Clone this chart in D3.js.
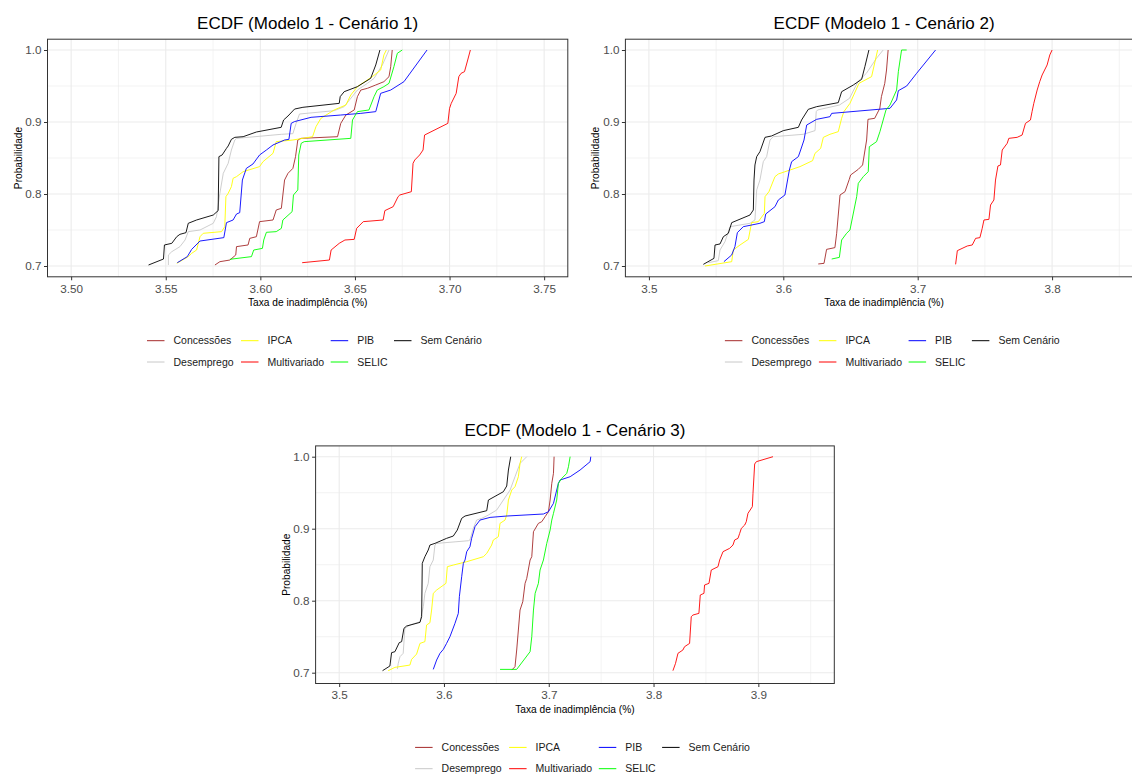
<!DOCTYPE html>
<meta charset="utf-8">
<style>
body { margin: 0; background: #fff; }
text { font-family: "Liberation Sans", Arial, sans-serif; }
.grid-major { stroke: #ebebeb; stroke-width: 1.1; }
.grid-minor { stroke: #ebebeb; stroke-width: 0.6; }
.border { fill: none; stroke: #333; stroke-width: 1; }
.axis .tick line { stroke: #333; }
.axis .tick text { fill: #4d4d4d; font-size: 11.7px; }
.title { font-size: 17px; fill: #000; }
.axis-title { font-size: 10.2px; fill: #000; }
.legend text { font-size: 10.5px; fill: #1a1a1a; }
.ecdf { fill: none; stroke-width: 0.9; stroke-linejoin: round; }
</style>
<body>
<script src="https://d3js.org/d3.v7.min.js"></script>
<script>

// legend order (factor levels) and colours
var seriesNames = ["Concessões", "Desemprego", "IPCA", "Multivariado", "PIB", "SELIC", "Sem Cenário"];
var seriesColors = ["#a52a2a", "#c8c8c8", "#ffff00", "#ff0000", "#0000ff", "#00ff00", "#000000"];

var yLim = [0.7, 1.0],
    yTicks = [0.7, 0.8, 0.9, 1.0];

var xLim1 = [3.5, 3.75], xTicks1 = [3.50, 3.55, 3.60, 3.65, 3.70, 3.75];
var xLim2 = [3.5, 3.85], xTicks2 = [3.5, 3.6, 3.7, 3.8];
var xLim3 = [3.5, 3.95], xTicks3 = [3.5, 3.6, 3.7, 3.8, 3.9];

// ---- Cenário 1: [taxa, probabilidade] vertices of each ECDF (upper tail)
var c1Concessoes = [[3.576,0.7014],[3.5786,0.706],[3.5839,0.7083],[3.587,0.7153],[3.5874,0.7269],[3.5935,0.7292],[3.5944,0.7384],[3.5979,0.7407],[3.5996,0.7616],[3.6067,0.7639],[3.6084,0.7778],[3.6111,0.7801],[3.6128,0.8194],[3.6146,0.8287],[3.6172,0.8356],[3.6186,0.8519],[3.6198,0.875],[3.6215,0.8773],[3.6408,0.8796],[3.6425,0.8981],[3.6452,0.9097],[3.6496,0.9167],[3.6513,0.9352],[3.6531,0.9444],[3.6566,0.9468],[3.661,0.9514],[3.6653,0.956],[3.668,0.963],[3.6689,0.9769],[3.6697,1.0]];
var c1Desemprego = [[3.5514,0.7014],[3.5514,0.7153],[3.5532,0.7199],[3.5575,0.7269],[3.5602,0.7361],[3.5619,0.7477],[3.5681,0.75],[3.5751,0.7593],[3.5768,0.7685],[3.5786,0.8009],[3.5804,0.8287],[3.583,0.8426],[3.5847,0.8611],[3.5865,0.875],[3.5874,0.8773],[3.6111,0.8829],[3.6172,0.8838],[3.6189,0.8981],[3.6207,0.9111],[3.639,0.9157],[3.6443,0.9213],[3.6474,0.9315],[3.6513,0.9444],[3.6566,0.9537],[3.6601,0.9606],[3.6645,0.9792],[3.668,1.0]];
var c1IPCA = [[3.5558,0.7037],[3.5619,0.713],[3.5637,0.7176],[3.5663,0.7222],[3.5681,0.7407],[3.5698,0.7454],[3.5795,0.7477],[3.5812,0.7546],[3.5818,0.7963],[3.583,0.8009],[3.5847,0.8102],[3.5856,0.8218],[3.5874,0.8241],[3.5909,0.831],[3.5996,0.838],[3.6014,0.8449],[3.6067,0.8565],[3.6084,0.8727],[3.6172,0.875],[3.6276,0.8796],[3.6294,0.8935],[3.632,0.9051],[3.639,0.9167],[3.6452,0.9236],[3.6478,0.9375],[3.6513,0.9491],[3.6592,0.963],[3.6636,0.9722],[3.6653,0.9931],[3.6666,1.0]];
var c1Multivariado = [[3.6221,0.7046],[3.6365,0.7083],[3.6374,0.7222],[3.6417,0.7315],[3.6447,0.7361],[3.6496,0.737],[3.6509,0.7523],[3.6544,0.7616],[3.6649,0.7639],[3.6658,0.7769],[3.6702,0.7824],[3.6728,0.7963],[3.6737,0.7986],[3.6798,0.8032],[3.6807,0.8426],[3.6816,0.8472],[3.6842,0.8542],[3.686,0.8611],[3.6868,0.8819],[3.6991,0.8981],[3.7,0.919],[3.7009,0.9259],[3.7035,0.9398],[3.7049,0.963],[3.7061,0.9676],[3.7079,0.9699],[3.7096,0.9861],[3.711,1.0]];
var c1PIB = [[3.5561,0.7046],[3.5614,0.713],[3.5637,0.7231],[3.5681,0.7347],[3.5807,0.7394],[3.5821,0.7602],[3.5856,0.7639],[3.5874,0.7722],[3.5891,0.7741],[3.5905,0.8194],[3.5926,0.8356],[3.5961,0.8417],[3.5996,0.8542],[3.6032,0.8611],[3.6067,0.8681],[3.6128,0.875],[3.6151,0.8759],[3.6163,0.8981],[3.618,0.9005],[3.6268,0.9065],[3.6425,0.9097],[3.6531,0.912],[3.661,0.9144],[3.6636,0.9398],[3.6689,0.9444],[3.6759,0.956],[3.6881,1.0]];
var c1SELIC = [[3.5839,0.7093],[3.5953,0.713],[3.5965,0.7222],[3.6011,0.7245],[3.6018,0.7361],[3.6032,0.7468],[3.6084,0.7477],[3.6111,0.7523],[3.6119,0.7639],[3.6168,0.7755],[3.6175,0.7986],[3.6198,0.8056],[3.6203,0.8542],[3.6216,0.8704],[3.6232,0.8727],[3.6478,0.8773],[3.6487,0.9028],[3.6513,0.9144],[3.6574,0.9167],[3.6601,0.9352],[3.6618,0.9444],[3.6653,0.9491],[3.668,0.9537],[3.6706,0.9769],[3.6724,0.9954],[3.675,1.0]];
var c1SemCenario = [[3.5409,0.7014],[3.5488,0.7097],[3.5493,0.7292],[3.5532,0.7315],[3.5558,0.7407],[3.5575,0.744],[3.5607,0.7463],[3.5619,0.7593],[3.5663,0.7639],[3.5751,0.7708],[3.5777,0.7769],[3.5781,0.8519],[3.5798,0.8542],[3.5821,0.8634],[3.583,0.8667],[3.5847,0.8759],[3.5865,0.8787],[3.5909,0.8796],[3.5979,0.8861],[3.611,0.8926],[3.6123,0.9028],[3.6146,0.9083],[3.6181,0.918],[3.6225,0.9204],[3.6417,0.9259],[3.6422,0.9352],[3.6443,0.9421],[3.6513,0.9491],[3.6583,0.9606],[3.661,0.9792],[3.6632,1.0]];

// ---- Cenário 2
var c2Concessoes = [[3.626,0.7028],[3.6303,0.7037],[3.6322,0.7231],[3.6384,0.7255],[3.6397,0.7454],[3.6422,0.7986],[3.6459,0.8032],[3.6491,0.8204],[3.6501,0.8264],[3.6558,0.8343],[3.659,0.8403],[3.662,0.875],[3.663,0.9037],[3.668,0.9051],[3.6718,0.919],[3.673,0.9352],[3.6755,0.9537],[3.6768,0.9722],[3.678,1.0]];
var c2Desemprego = [[3.5442,0.7046],[3.5516,0.7074],[3.5529,0.7222],[3.5566,0.7338],[3.5603,0.7546],[3.5752,0.7593],[3.5789,0.7639],[3.5802,0.8056],[3.5826,0.8194],[3.5851,0.8449],[3.5876,0.8519],[3.5901,0.875],[3.5926,0.8796],[3.6149,0.8829],[3.6236,0.888],[3.6245,0.9144],[3.6255,0.9167],[3.6418,0.9236],[3.6493,0.9329],[3.6555,0.956],[3.6618,0.9676],[3.6693,0.9884],[3.6743,1.0]];
var c2IPCA = [[3.5417,0.7],[3.5616,0.706],[3.5628,0.7222],[3.5678,0.7292],[3.574,0.737],[3.5764,0.7602],[3.5814,0.7616],[3.5859,0.7731],[3.5864,0.7963],[3.5893,0.8032],[3.5938,0.8241],[3.5963,0.8278],[3.6124,0.838],[3.6218,0.8463],[3.6236,0.8565],[3.6278,0.8634],[3.6298,0.8787],[3.6347,0.8829],[3.6409,0.8866],[3.6434,0.9051],[3.6451,0.9144],[3.6496,0.9259],[3.6563,0.9537],[3.6657,0.963],[3.6702,1.0]];
var c2Multivariado = [[3.7282,0.7023],[3.7295,0.7213],[3.7369,0.7278],[3.7406,0.7292],[3.7431,0.7384],[3.7463,0.7394],[3.748,0.7523],[3.7493,0.7639],[3.753,0.7648],[3.7542,0.7847],[3.7567,0.7917],[3.7579,0.8194],[3.7597,0.8389],[3.7616,0.8403],[3.7629,0.8611],[3.7666,0.8704],[3.7678,0.8773],[3.774,0.8787],[3.7777,0.8819],[3.7802,0.8981],[3.7839,0.9028],[3.7851,0.9144],[3.7864,0.9259],[3.7889,0.9444],[3.7908,0.956],[3.7926,0.9653],[3.7963,0.9792],[3.7983,0.9931],[3.8,1.0]];
var c2PIB = [[3.5558,0.706],[3.5616,0.7153],[3.564,0.7269],[3.5658,0.7463],[3.5702,0.7546],[3.5826,0.7593],[3.5859,0.7616],[3.5869,0.7722],[3.5938,0.7824],[3.5963,0.7917],[3.6012,0.7986],[3.6045,0.8333],[3.6062,0.8449],[3.6112,0.8519],[3.6129,0.8611],[3.6154,0.875],[3.6174,0.8958],[3.6248,0.9037],[3.6347,0.9074],[3.636,0.912],[3.6794,0.919],[3.6843,0.9306],[3.6856,0.9435],[3.6918,0.95],[3.6992,0.9676],[3.7133,1.0]];
var c2SELIC = [[3.636,0.7097],[3.6417,0.712],[3.6434,0.7361],[3.6471,0.7454],[3.6496,0.75],[3.6546,0.7963],[3.6558,0.8148],[3.6595,0.8241],[3.6632,0.831],[3.664,0.8657],[3.6694,0.8727],[3.6719,0.8866],[3.6764,0.9167],[3.6794,0.9236],[3.6843,0.9444],[3.6856,0.9699],[3.688,1.0],[3.6918,1.0]];
var c2SemCenario = [[3.5405,0.7023],[3.5484,0.7106],[3.5492,0.7292],[3.5529,0.7306],[3.5554,0.7407],[3.5591,0.7454],[3.5616,0.7602],[3.5752,0.7708],[3.5777,0.7778],[3.5782,0.8194],[3.5789,0.8403],[3.5802,0.8519],[3.5826,0.8588],[3.5864,0.8787],[3.5913,0.8806],[3.6,0.888],[3.6112,0.8926],[3.6136,0.9028],[3.6186,0.9176],[3.6248,0.9213],[3.6409,0.9269],[3.6434,0.9421],[3.6521,0.9514],[3.6583,0.9593],[3.6607,0.9769],[3.6637,1.0]];

// ---- Cenário 3
var c3Concessoes = [[3.6647,0.7037],[3.6678,0.7083],[3.6694,0.7315],[3.671,0.7593],[3.6726,0.787],[3.6752,0.7986],[3.6774,0.8241],[3.679,0.831],[3.6822,0.8565],[3.6838,0.8611],[3.6854,0.8958],[3.6901,0.9074],[3.6933,0.9097],[3.6965,0.9167],[3.6997,0.9236],[3.7013,0.9398],[3.7029,0.963],[3.7045,0.9769],[3.7051,1.0]];
var c3Desemprego = [[3.5555,0.705],[3.5564,0.713],[3.558,0.7222],[3.5611,0.7269],[3.5627,0.7616],[3.5675,0.7662],[3.5771,0.7708],[3.5803,0.7917],[3.5818,0.8102],[3.585,0.8241],[3.5866,0.8472],[3.5898,0.8565],[3.5914,0.8773],[3.593,0.8796],[3.6233,0.8833],[3.6248,0.8843],[3.628,0.9005],[3.6312,0.912],[3.636,0.9144],[3.6424,0.919],[3.6503,0.9259],[3.6567,0.9398],[3.6631,0.9537],[3.6678,0.9722],[3.6726,0.9907],[3.679,1.0]];
var c3IPCA = [[3.5468,0.7028],[3.5532,0.7074],[3.5675,0.7106],[3.5691,0.7185],[3.5739,0.7259],[3.5771,0.7407],[3.5818,0.7431],[3.5834,0.7662],[3.5866,0.7694],[3.5882,0.787],[3.5898,0.8102],[3.593,0.8148],[3.6019,0.8241],[3.6032,0.8472],[3.6089,0.8495],[3.6217,0.8542],[3.6376,0.8611],[3.6408,0.8657],[3.6455,0.8773],[3.6471,0.8843],[3.6519,0.8889],[3.6535,0.9074],[3.6583,0.912],[3.6599,0.919],[3.6615,0.9398],[3.6647,0.9537],[3.6678,0.9583],[3.671,0.9722],[3.6726,0.9907],[3.6742,1.0]];
var c3Multivariado = [[3.8185,0.7028],[3.821,0.713],[3.8233,0.7269],[3.828,0.7315],[3.8296,0.7361],[3.8344,0.7407],[3.836,0.7778],[3.8376,0.7801],[3.8433,0.7824],[3.8446,0.8079],[3.8481,0.8102],[3.8487,0.8218],[3.8529,0.8241],[3.8551,0.8426],[3.8615,0.8472],[3.8631,0.8565],[3.8663,0.8681],[3.8726,0.8727],[3.8758,0.8773],[3.8774,0.8843],[3.8806,0.8866],[3.8822,0.8935],[3.8838,0.9005],[3.887,0.9051],[3.8885,0.9097],[3.8901,0.9213],[3.8943,0.9306],[3.8949,0.9491],[3.8965,0.9898],[3.8981,0.9931],[3.914,1.0]];
var c3PIB = [[3.5898,0.7046],[3.593,0.7176],[3.5962,0.7269],[3.5994,0.7324],[3.6025,0.7407],[3.6057,0.75],[3.6105,0.7685],[3.6137,0.7824],[3.6147,0.8056],[3.6169,0.8333],[3.6185,0.8519],[3.6201,0.8565],[3.6217,0.8681],[3.6248,0.875],[3.6264,0.8866],[3.6296,0.9028],[3.6344,0.912],[3.644,0.9157],[3.6599,0.9176],[3.6949,0.9204],[3.6997,0.9236],[3.7045,0.9352],[3.7076,0.9537],[3.7092,0.963],[3.7108,0.9676],[3.7204,0.9722],[3.7299,0.9815],[3.7395,0.9931],[3.7401,1.0]];
var c3SELIC = [[3.6535,0.7046],[3.6694,0.7046],[3.6822,0.7292],[3.6838,0.75],[3.6854,0.787],[3.687,0.8102],[3.6901,0.8241],[3.6917,0.8426],[3.6949,0.8565],[3.6981,0.8796],[3.7013,0.8981],[3.7029,0.912],[3.7045,0.9213],[3.7076,0.9398],[3.7092,0.963],[3.7124,0.9699],[3.7172,0.9769],[3.7188,0.9861],[3.7204,1.0]];
var c3SemCenario = [[3.5414,0.7028],[3.5484,0.7093],[3.55,0.7278],[3.5532,0.7292],[3.5573,0.7417],[3.5596,0.7431],[3.5618,0.7616],[3.5643,0.7648],[3.5771,0.7699],[3.5787,0.7778],[3.5793,0.8519],[3.5818,0.8611],[3.585,0.8704],[3.5866,0.8773],[3.5914,0.8796],[3.6025,0.8866],[3.6089,0.8898],[3.6127,0.8981],[3.6169,0.9144],[3.6201,0.9176],[3.6408,0.925],[3.6424,0.9398],[3.6567,0.9514],[3.6599,0.9593],[3.6615,0.9815],[3.6637,1.0]];

var panels = [
  { title: "ECDF (Modelo 1 - Cenário 1)", xLim: xLim1, xTicks: xTicks1, fmt: ".2f",
    left: 47.5, right: 567.8, top: 39.2, bottom: 276.8,
    series: [c1Concessoes, c1Desemprego, c1IPCA, c1Multivariado, c1PIB, c1SELIC, c1SemCenario] },
  { title: "ECDF (Modelo 1 - Cenário 2)", xLim: xLim2, xTicks: xTicks2, fmt: ".1f",
    left: 625.4, right: 1142.8, top: 39.2, bottom: 276.8,
    series: [c2Concessoes, c2Desemprego, c2IPCA, c2Multivariado, c2PIB, c2SELIC, c2SemCenario] },
  { title: "ECDF (Modelo 1 - Cenário 3)", xLim: xLim3, xTicks: xTicks3, fmt: ".1f",
    left: 315.6, right: 834.3, top: 445.9, bottom: 683.5,
    series: [c3Concessoes, c3Desemprego, c3IPCA, c3Multivariado, c3PIB, c3SELIC, c3SemCenario] }
];

// legend layout: 4 columns, filled by column
var legendKeyX = [99.5, 193.5, 283.2, 346.5],
    legendRowY = [63.9, 85.2];

var svg = d3.select("body").append("svg")
    .attr("width", 1132)
    .attr("height", 774);

function expand(lim) {
  var d = (lim[1] - lim[0]) * 0.05;
  return [lim[0] - d, lim[1] + d];
}

function minorBreaks(ticks, dom) {
  var step = ticks[1] - ticks[0], out = [];
  for (var i = -1; i < ticks.length; i++) {
    var v = ticks[0] + (i + 0.5) * step;
    if (v > dom[0] && v < dom[1]) out.push(v);
  }
  return out;
}

panels.forEach(function(p) {
  var xDom = expand(p.xLim), yDom = expand(yLim);
  var x = d3.scaleLinear().domain(xDom).range([p.left, p.right]);
  var y = d3.scaleLinear().domain(yDom).range([p.bottom, p.top]);
  var g = svg.append("g");

  var clipId = "clip" + Math.round(p.left);
  g.append("clipPath").attr("id", clipId)
    .append("rect").attr("x", p.left).attr("y", p.top)
      .attr("width", p.right - p.left).attr("height", p.bottom - p.top);

  var grid = g.append("g");
  grid.selectAll(".gx-minor").data(minorBreaks(p.xTicks, xDom)).enter().append("line")
      .attr("class", "grid-minor")
      .attr("x1", x).attr("x2", x).attr("y1", p.top).attr("y2", p.bottom);
  grid.selectAll(".gy-minor").data(minorBreaks(yTicks, yDom)).enter().append("line")
      .attr("class", "grid-minor")
      .attr("x1", p.left).attr("x2", p.right).attr("y1", y).attr("y2", y);
  grid.selectAll(".gx").data(p.xTicks).enter().append("line")
      .attr("class", "grid-major")
      .attr("x1", x).attr("x2", x).attr("y1", p.top).attr("y2", p.bottom);
  grid.selectAll(".gy").data(yTicks).enter().append("line")
      .attr("class", "grid-major")
      .attr("x1", p.left).attr("x2", p.right).attr("y1", y).attr("y2", y);

  var line = d3.line()
      .x(function(d) { return x(d[0]); })
      .y(function(d) { return y(d[1]); });

  g.append("g").attr("clip-path", "url(#" + clipId + ")")
    .selectAll("path").data(p.series).enter().append("path")
      .attr("class", "ecdf")
      .attr("stroke", function(d, i) { return seriesColors[i]; })
      .attr("d", line);

  g.append("rect").attr("class", "border")
      .attr("x", p.left).attr("y", p.top)
      .attr("width", p.right - p.left).attr("height", p.bottom - p.top);

  g.append("g").attr("class", "axis")
      .attr("transform", "translate(0," + p.bottom + ")")
      .call(d3.axisBottom(x).tickValues(p.xTicks).tickFormat(d3.format(p.fmt))
        .tickSize(3.5).tickPadding(4))
      .call(function(a) { a.select(".domain").remove(); });

  g.append("g").attr("class", "axis")
      .attr("transform", "translate(" + p.left + ",0)")
      .call(d3.axisLeft(y).tickValues(yTicks).tickFormat(d3.format(".1f"))
        .tickSize(3.5).tickPadding(2.5))
      .call(function(a) { a.select(".domain").remove(); });

  var cx = (p.left + p.right) / 2, cy = (p.top + p.bottom) / 2;

  g.append("text").attr("class", "title")
      .attr("x", cx).attr("y", p.top - 10.2)
      .attr("text-anchor", "middle").text(p.title);

  g.append("text").attr("class", "axis-title")
      .attr("x", cx).attr("y", p.bottom + 29.5)
      .attr("text-anchor", "middle").text("Taxa de inadimplência (%)");

  g.append("text").attr("class", "axis-title")
      .attr("transform", "translate(" + (p.left - 26) + "," + cy + ")rotate(-90)")
      .attr("text-anchor", "middle").text("Probabilidade");

  var leg = g.append("g").attr("class", "legend");
  seriesNames.forEach(function(name, i) {
    var col = Math.floor(i / 2), row = i % 2;
    var lx = p.left + legendKeyX[col], ly = p.bottom + legendRowY[row];
    leg.append("line")
        .attr("x1", lx).attr("x2", lx + 17.5).attr("y1", ly).attr("y2", ly)
        .attr("stroke", seriesColors[i]).attr("stroke-width", 1);
    leg.append("text")
        .attr("x", lx + 26.5).attr("y", ly).attr("dy", "0.35em")
        .text(name);
  });
});

</script>
